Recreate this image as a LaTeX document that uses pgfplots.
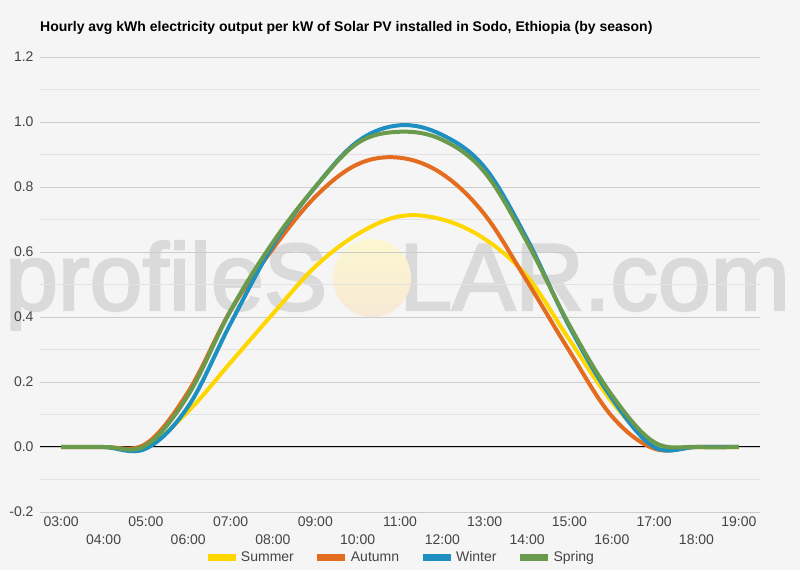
\documentclass[border=0pt]{standalone}
\usepackage{pgfplots}
\pgfplotsset{compat=1.18}
\usepackage{fontspec}
\setmainfont{Liberation Sans}
\newfontfamily\wmfont[FakeBold=2.5]{Liberation Sans}
\definecolor{bg}{HTML}{F5F5F5}
\definecolor{cSummer}{HTML}{FFD700}
\definecolor{cAutumn}{HTML}{E36C1E}
\definecolor{cWinter}{HTML}{1D8FC0}
\definecolor{cSpring}{HTML}{6A9A4C}
\definecolor{majgrid}{HTML}{CCCCCC}
\definecolor{mingrid}{HTML}{E2E2E2}
\definecolor{ticktext}{HTML}{444444}
\definecolor{wm}{HTML}{DADADA}
\definecolor{suntop}{HTML}{FBF7CF}
\definecolor{sunbot}{HTML}{F8E9D6}

\pgfplotstableread{
h   su     au     wi     sp
3   0.00   0.00   0.00   0.00
4   0.00   0.00   0.00   0.00
5   0.00   0.01   -0.005 0.005
6   0.11   0.17   0.125  0.16
7   0.26   0.42   0.38   0.42
8   0.41   0.61   0.62   0.63
9   0.555  0.77   0.80   0.80
10  0.655  0.87   0.94   0.935
11  0.71   0.89   0.99   0.97
12  0.70   0.84   0.96   0.945
13  0.64   0.715  0.86   0.845
14  0.525  0.51   0.64   0.63
15  0.33   0.295  0.37   0.375
16  0.14   0.095  0.15   0.16
17  0.01   -0.005 0.00   0.015
18  0.00   0.00   0.00   0.00
19  0.00   0.00   0.00   0.00
}\datatable

\begin{document}
\begin{tikzpicture}[x=1bp,y=1bp]
\fill[bg] (0,0) rectangle (800,570);
% watermark
\node[anchor=base west, inner sep=0, text=wm, font=\wmfont\fontsize{95bp}{95bp}\selectfont] at (5,260) {profileS};
\node[anchor=base west, inner sep=0, text=wm, font=\wmfont\fontsize{95bp}{95bp}\selectfont] at (399,260) {LAR.com};
\shade[top color=suntop, bottom color=sunbot] (372,292) circle (39);
% title
\node[anchor=west, inner sep=0, font=\bfseries\fontsize{14bp}{16bp}\selectfont] at (40,542) {Hourly avg kWh electricity output per kW of Solar PV installed in Sodo, Ethiopia (by season)};
\begin{axis}[
  at={(40bp,58bp)}, anchor=south west,
  scale only axis, width=720bp, height=455bp,
  xmin=2.5, xmax=19.5, ymin=-0.2, ymax=1.2,
  axis line style={draw=none},
  xtick={3,...,19},
  xticklabels={\strut 03:00,\strut\\04:00,\strut 05:00,\strut\\06:00,\strut 07:00,\strut\\08:00,\strut 09:00,\strut\\10:00,\strut 11:00,\strut\\12:00,\strut 13:00,\strut\\14:00,\strut 15:00,\strut\\16:00,\strut 17:00,\strut\\18:00,\strut 19:00},
  xticklabel style={align=center, text=ticktext, font=\fontsize{14bp}{18bp}\selectfont, anchor=north, inner sep=0pt, yshift=-2bp},
  ytick={-0.2,0,0.2,0.4,0.6,0.8,1.0,1.2},
  minor ytick={-0.1,0.1,0.3,0.5,0.7,0.9,1.1},
  yticklabel style={text=ticktext, font=\fontsize{14bp}{16bp}\selectfont, xshift=-3bp, /pgf/number format/.cd, fixed, fixed zerofill, precision=1},
  /pgf/number format/assume math mode=true,
  ymajorgrids, yminorgrids,
  major grid style={majgrid, line width=0.8bp},
  minor grid style={mingrid, line width=0.8bp},
  major tick length=0pt, minor tick length=0pt,
  tick style={draw=none},
  clip=false,
  legend columns=4,
  legend style={at={(0.5,-0.099)}, anchor=center, draw=none, fill=none,
    font=\fontsize{14bp}{16bp}\selectfont, text=ticktext,
    /tikz/every even column/.append style={column sep=18bp}},
  legend image code/.code={\draw[line width=7bp] (0bp,0bp) -- (28bp,0bp);},
  every axis plot/.append style={line width=4bp, smooth, tension=0.6, no marks},
]
\draw[black, line width=1bp] (axis cs:2.5,0) -- (axis cs:19.5,0);
\addplot[cSummer] table[x=h, y=su] {\datatable};
\addlegendentry{Summer}
\addplot[cAutumn] table[x=h, y=au] {\datatable};
\addlegendentry{Autumn}
\addplot[cWinter] table[x=h, y=wi] {\datatable};
\addlegendentry{Winter}
\addplot[cSpring] table[x=h, y=sp] {\datatable};
\addlegendentry{Spring}
\end{axis}
\end{tikzpicture}
\end{document}
